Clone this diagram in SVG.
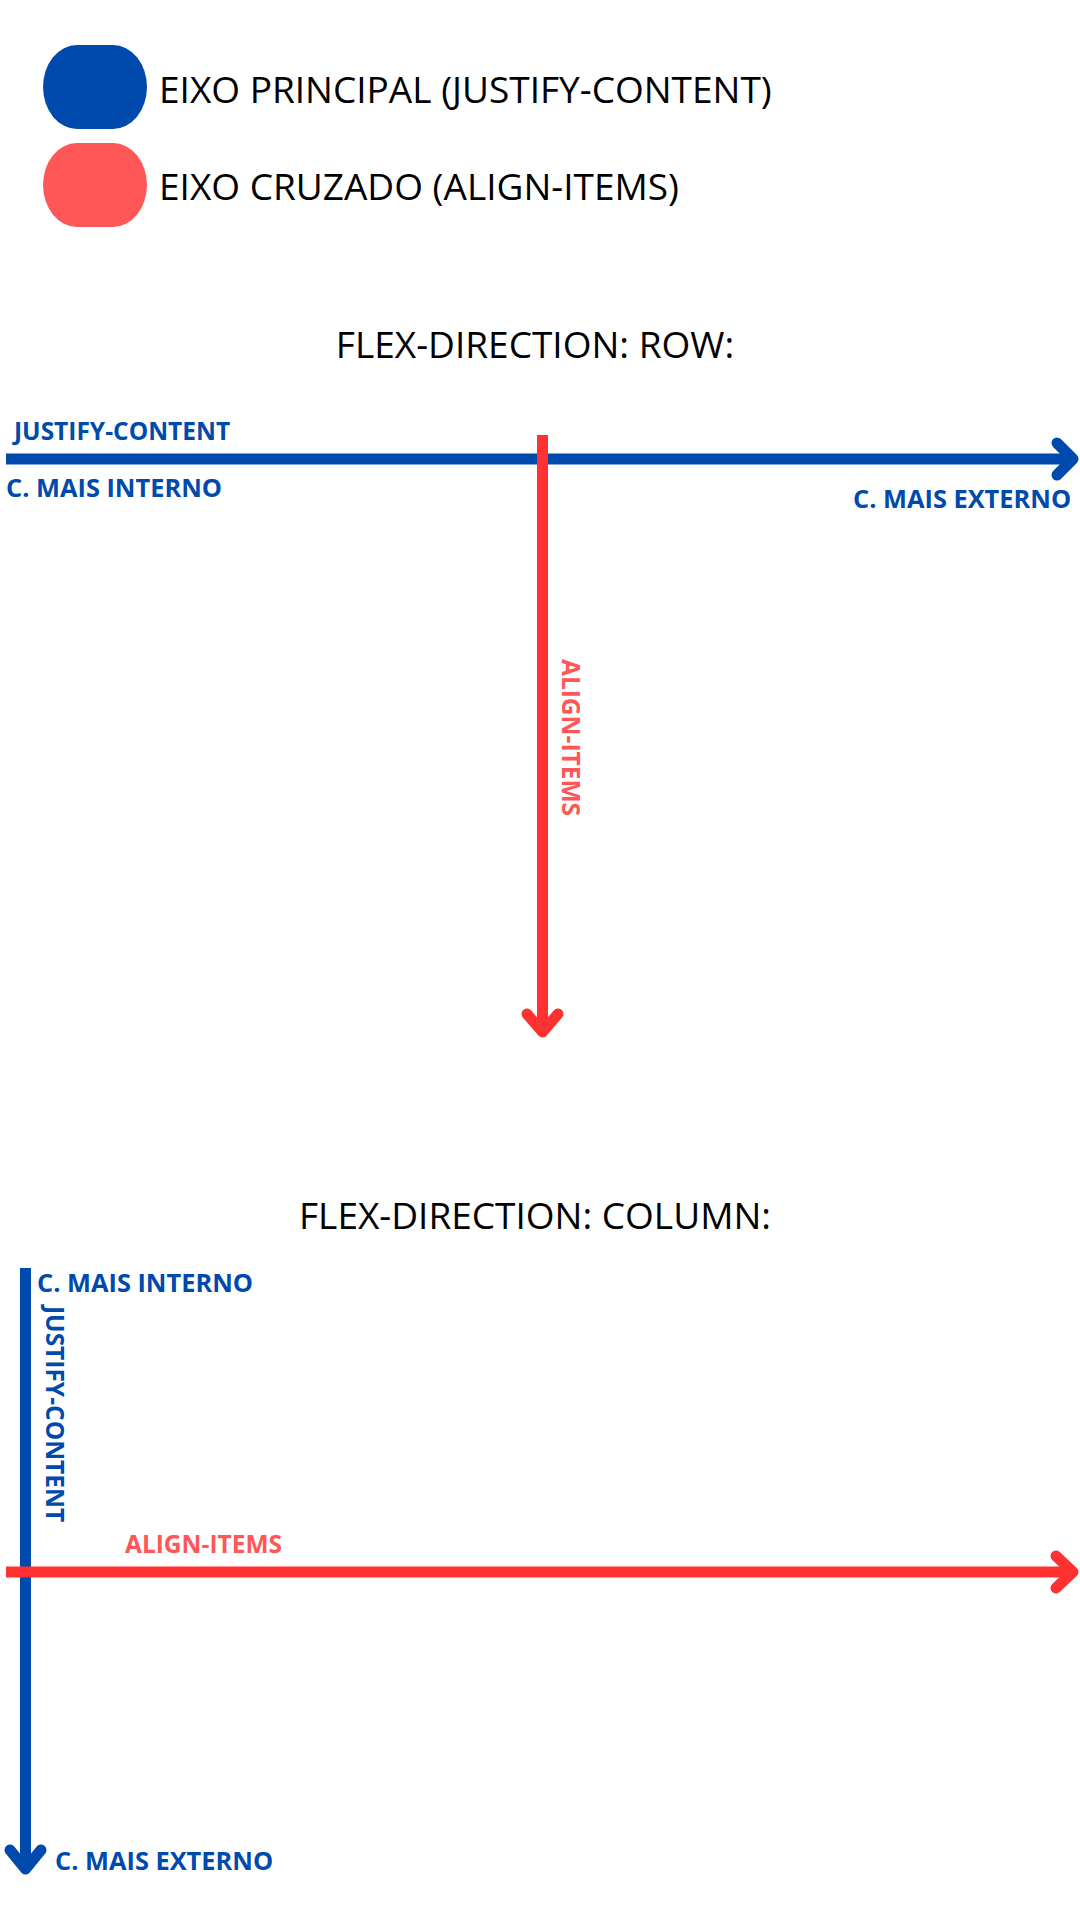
<svg xmlns="http://www.w3.org/2000/svg" width="1080" height="1920" viewBox="0 0 1080 1920">
<style>
.t{font-family:"Open Sans","Noto Sans","Liberation Sans",sans-serif;font-size:37px;fill:#000;}
.lb{font-family:"Open Sans","Noto Sans","Liberation Sans",sans-serif;font-size:24.5px;font-weight:700;}
.cm{font-size:25.4px;}
.b{fill:#004AAD;}
.r{fill:#FF5757;}
.lnb{stroke:#004AAD;stroke-width:11;fill:none;}
.lnr{stroke:#FF3131;stroke-width:11;fill:none;}
.hd{stroke-linecap:round;stroke-linejoin:round;}
</style>
<rect width="1080" height="1920" fill="#fff"/>
<g id="legend-main">
<rect x="43" y="45" width="104" height="84" rx="34" ry="42" fill="#004AAD"/>
<text class="t" x="159" y="103">EIXO PRINCIPAL (JUSTIFY-CONTENT)</text>
</g>
<g id="legend-cross">
<rect x="43" y="143" width="104" height="84" rx="34" ry="42" fill="#FF5757"/>
<text class="t" x="159" y="200">EIXO CRUZADO (ALIGN-ITEMS)</text>
</g>
<g id="title-row"><text class="t" x="535" y="358" text-anchor="middle">FLEX-DIRECTION: ROW:</text></g>
<g id="title-column"><text class="t" x="535" y="1229" text-anchor="middle">FLEX-DIRECTION: COLUMN:</text></g>
<g id="connectors">
<line class="lnb" x1="6" y1="459" x2="1070" y2="459"/>
<polyline class="lnb hd" points="1057,443 1073,459 1057,475"/>
<line class="lnr" x1="542.5" y1="435" x2="542.5" y2="1030"/>
<polyline class="lnr hd" points="527,1014 542.5,1032 558,1014"/>
<line class="lnb" x1="25.5" y1="1268" x2="25.5" y2="1866"/>
<polyline class="lnb hd" points="10,1850 25.5,1869 41,1850"/>
<line class="lnr" x1="6" y1="1572" x2="1070" y2="1572"/>
<polyline class="lnr hd" points="1056,1556 1073,1572 1056,1588"/>
</g>
<g id="row-labels">
<text class="lb b" x="14" y="440">JUSTIFY-CONTENT</text>
<text class="lb cm b" x="6" y="497">C. MAIS INTERNO</text>
<text class="lb cm b" x="853" y="508">C. MAIS EXTERNO</text>
<text class="lb r" transform="translate(562,659) rotate(90)">ALIGN-ITEMS</text>
</g>
<g id="column-labels">
<text class="lb cm b" x="37" y="1292">C. MAIS INTERNO</text>
<text class="lb b" transform="translate(46,1306) rotate(90)">JUSTIFY-CONTENT</text>
<text class="lb r" x="125" y="1553">ALIGN-ITEMS</text>
<text class="lb cm b" x="55" y="1870">C. MAIS EXTERNO</text>
</g>
</svg>
